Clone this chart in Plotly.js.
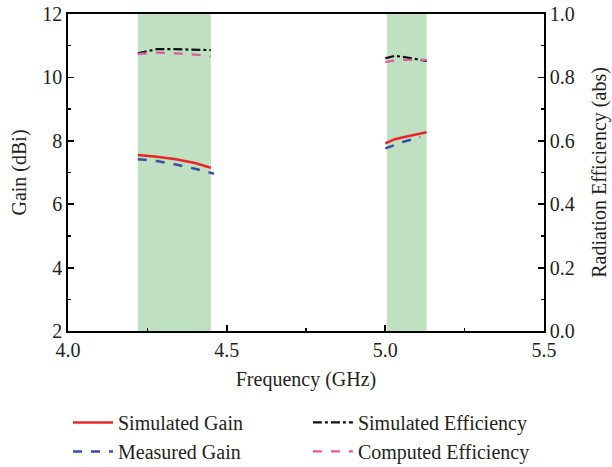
<!DOCTYPE html>
<html>
<head>
<meta charset="utf-8">
<script src="https://cdn.plot.ly/plotly-3.0.1.min.js"></script>
<style>
  html, body { margin: 0; padding: 0; background: #fff; }
  #chart { width: 612px; height: 467px; }
</style>
</head>
<body>
<div id="chart"></div>
<script>
// Frequency samples (GHz); the middle point with null values splits the two bands
const freq = [4.22, 4.28, 4.34, 4.40, 4.45, 4.75, 5.00, 5.03, 5.06, 5.09, 5.13];
const freqMeasured = [4.22, 4.28, 4.34, 4.40, 4.46, 4.75, 5.00, 5.03, 5.06, 5.09, 5.11];

// Gain (dBi)
const simulatedGain = [7.55, 7.50, 7.42, 7.30, 7.15, null, 7.92, 8.05, 8.12, 8.18, 8.27];
const measuredGain  = [7.42, 7.36, 7.25, 7.12, 6.96, null, 7.76, 7.88, 7.98, 8.06, 8.12];

// Radiation efficiency (abs)
const simulatedEff = [0.876, 0.889, 0.889, 0.887, 0.886, null, 0.860, 0.868, 0.864, 0.858, 0.852];
const computedEff  = [0.874, 0.878, 0.876, 0.872, 0.866, null, 0.848, 0.854, 0.855, 0.855, 0.855];

// Operating bands (GHz)
const bandStart = [4.22, 5.005];
const bandEnd   = [4.45, 5.13];

const fontFamily = '"Liberation Serif", "DejaVu Serif", serif';
const textColor = '#231f20';
const fontSize = 20;

// Gain traces go in the left legend column, efficiency traces in the right one
const traces = [
  { x: freq, y: simulatedGain, name: 'Simulated Gain', mode: 'lines',
    line: { color: '#e8262a', width: 2.5 }, yaxis: 'y', legend: 'legend' },
  { x: freqMeasured, y: measuredGain, name: 'Measured Gain', mode: 'lines',
    line: { color: '#3a4fa3', width: 2.5, dash: 'dash' }, yaxis: 'y', legend: 'legend' },
  { x: freq, y: simulatedEff, name: 'Simulated Efficiency', mode: 'lines',
    line: { color: '#111111', width: 2.2, dash: 'dashdot' }, yaxis: 'y2', legend: 'legend2' },
  { x: freq, y: computedEff, name: 'Computed Efficiency', mode: 'lines',
    line: { color: '#e05aa0', width: 2.2, dash: 'dash' }, yaxis: 'y2', legend: 'legend2' }
];

const shapes = bandStart.map((s, i) => ({
  type: 'rect', xref: 'x', yref: 'paper', x0: s, x1: bandEnd[i], y0: 0, y1: 1,
  fillcolor: 'rgb(191,224,193)', line: { width: 0 }, layer: 'below'
}));

const axisFont = { family: fontFamily, size: fontSize, color: textColor };

const axisCommon = {
  showgrid: false, zeroline: false, showline: true, linecolor: '#000', linewidth: 1.8,
  ticks: 'inside', ticklen: 6, tickwidth: 1.8, tickcolor: '#000',
  tickfont: axisFont, automargin: false
};

const legendCommon = {
  orientation: 'v', xanchor: 'left', y: -0.227, yanchor: 'top',
  font: axisFont, bgcolor: 'rgba(0,0,0,0)', tracegroupgap: 0, itemwidth: 40
};

const layout = {
  width: 612, height: 467,
  margin: { l: 68, r: 68, t: 14, b: 136, autoexpand: false },
  paper_bgcolor: '#fff', plot_bgcolor: '#fff',
  font: axisFont,
  showlegend: true,
  shapes: shapes,
  xaxis: Object.assign({}, axisCommon, {
    range: [4.0, 5.5], dtick: 0.5, tickformat: '.1f', mirror: true,
    minor: { dtick: 0.25, ticks: 'inside', ticklen: 3, tickwidth: 1.5, tickcolor: '#000' },
    title: { text: 'Frequency (GHz)', font: axisFont, standoff: 12 }
  }),
  yaxis: Object.assign({}, axisCommon, {
    range: [2, 12], dtick: 2,
    minor: { dtick: 1, ticks: 'inside', ticklen: 3, tickwidth: 1.5, tickcolor: '#000' },
    title: { text: 'Gain (dBi)', font: axisFont, standoff: 10 }
  }),
  yaxis2: Object.assign({}, axisCommon, {
    overlaying: 'y', side: 'right', range: [0, 1], dtick: 0.2, tickformat: '.1f',
    minor: { dtick: 0.1, ticks: 'inside', ticklen: 3, tickwidth: 1.5, tickcolor: '#000' },
    title: { text: 'Radiation Efficiency (abs)', font: axisFont, standoff: 18 }
  }),
  legend: Object.assign({}, legendCommon, { x: 0 }),
  legend2: Object.assign({}, legendCommon, { x: 0.504 })
};

Plotly.newPlot('chart', traces, layout, { displayModeBar: false, staticPlot: true });
</script>
</body>
</html>
